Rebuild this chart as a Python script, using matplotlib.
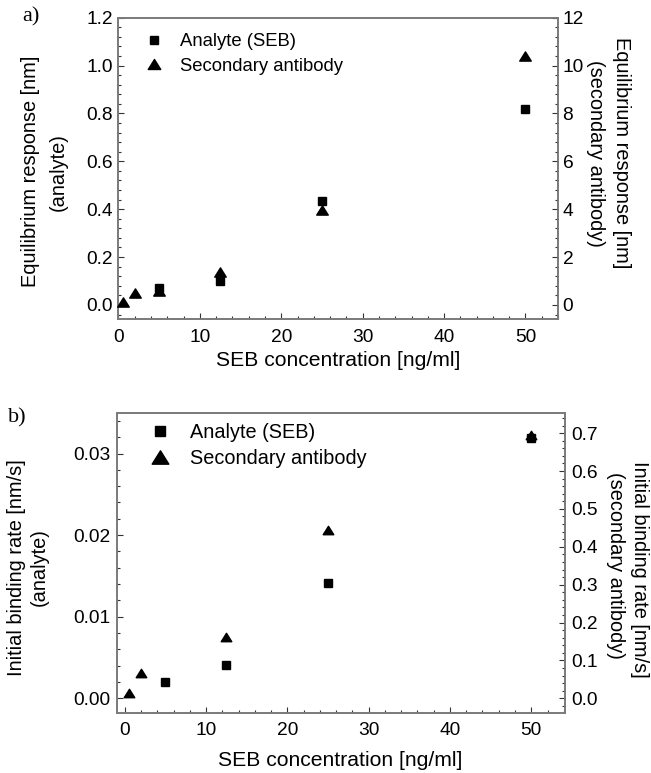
import matplotlib
matplotlib.use("Agg")
import matplotlib.pyplot as plt
from matplotlib.ticker import MultipleLocator, FormatStrFormatter
from matplotlib.lines import Line2D
from matplotlib.path import Path

plt.rcParams['font.family'] = ['Liberation Sans', 'DejaVu Sans']

# SEB concentration [ng/ml]
conc_analyte = [5, 12.5, 25, 50]
conc_secondary = [0.5, 2, 5, 12.5, 25, 50]
conc_rate_secondary = [0.5, 2, 12.5, 25, 50]

# a) equilibrium response [nm]
eq_analyte = [0.072, 0.100, 0.435, 0.818]
eq_secondary = [0.14, 0.51, 0.58, 1.37, 3.97, 10.4]

# b) initial binding rate [nm/s]
rate_analyte = [0.0020, 0.0041, 0.0141, 0.0319]
rate_secondary = [0.014, 0.068, 0.162, 0.445, 0.695]

W, H = 651, 773
fig = plt.figure(figsize=(W / 100, H / 100), dpi=100)

SPINE = '#7a7a7a'
TICK = '#333333'
TICK_FS = 13.8
LABEL_FS = 14.4
XLABEL_FS = 15.2

# slightly flattened triangle, as drawn by the original plotting package
TRI = Path([(-1, -0.8), (1, -0.8), (0, 0.8), (-1, -0.8)],
           [Path.MOVETO, Path.LINETO, Path.LINETO, Path.CLOSEPOLY])


def fx(px):
    return px / W


def fy(py):
    return 1 - py / H


def px_axes(left, top, right, bottom):
    return fig.add_axes([fx(left), fy(bottom), (right - left) / W, (bottom - top) / H])


def style(ax, xpad, ypad, right=False):
    for s in ax.spines.values():
        s.set_color(SPINE)
        s.set_linewidth(1.2)
    ax.tick_params(which='both', direction='in', colors=TICK, labelcolor='black',
                   labelsize=TICK_FS, width=0.8)
    ax.tick_params(which='major', length=4.5)
    ax.tick_params(which='minor', length=2.5)
    if right:
        ax.tick_params(axis='y', which='both', left=False, right=True, pad=ypad)
    else:
        ax.tick_params(axis='y', which='both', right=False, pad=ypad)
        ax.tick_params(axis='x', which='both', top=False, pad=xpad)


# ---------------- panel a ----------------
axa = px_axes(118.5, 17.7, 558, 319.3)
axa2 = axa.twinx()
axa.set_xlim(0, 54)
axa.set_ylim(-0.06, 1.2)
axa2.set_ylim(-0.6, 12)
axa.xaxis.set_major_locator(MultipleLocator(10))
axa.xaxis.set_minor_locator(MultipleLocator(2))
axa.yaxis.set_major_locator(MultipleLocator(0.2))
axa.yaxis.set_minor_locator(MultipleLocator(0.04))
axa.yaxis.set_major_formatter(FormatStrFormatter('%.1f'))
axa2.yaxis.set_major_locator(MultipleLocator(2))
axa2.yaxis.set_minor_locator(MultipleLocator(0.4))
style(axa, xpad=7.2, ypad=4.2)
style(axa2, xpad=7.2, ypad=3.3, right=True)

axa.plot(conc_analyte, eq_analyte, 's', color='black', ms=5.6, zorder=3, clip_on=False)
axa2.plot(conc_secondary, eq_secondary, marker=TRI, ls='none', color='black', ms=8.3,
          zorder=3, clip_on=False)

fig.text(fx(338.5), fy(360), 'SEB concentration [ng/ml]', fontsize=XLABEL_FS,
         ha='center', va='center')
fig.text(fx(31), fy(171.7), 'Equilibrium response [nm]', rotation=90,
         ha='center', va='center', fontsize=LABEL_FS)
fig.text(fx(58), fy(171.7), '(analyte)', rotation=90,
         ha='center', va='center', fontsize=LABEL_FS)
fig.text(fx(621), fy(152.5), 'Equilibrium response [nm]', rotation=270,
         ha='center', va='center', fontsize=LABEL_FS)
fig.text(fx(596), fy(153), '(secondary antibody)', rotation=270,
         ha='center', va='center', fontsize=LABEL_FS)

ha = [Line2D([], [], ls='none', marker='s', color='black', ms=5.8),
      Line2D([], [], ls='none', marker=TRI, color='black', ms=9.0)]
axa.legend(ha, ['Analyte (SEB)', 'Secondary antibody'], loc='upper left',
           bbox_to_anchor=(0.060, 0.949), frameon=False, fontsize=13.3,
           handlelength=1.0, handletextpad=0.9, labelspacing=0.41,
           borderpad=0, borderaxespad=0)

fig.text(fx(22), fy(17), 'a)', family='Liberation Serif', fontsize=16, ha='left', va='center')

# ---------------- panel b ----------------
axb = px_axes(116.7, 412.7, 564.6, 712.7)
axb2 = axb.twinx()
axb.set_xlim(-1, 54.1)
axb.set_ylim(-0.00176, 0.035)
axb2.set_ylim(-0.038, 0.754)
axb.xaxis.set_major_locator(MultipleLocator(10))
axb.xaxis.set_minor_locator(MultipleLocator(2))
axb.yaxis.set_major_locator(MultipleLocator(0.01))
axb.yaxis.set_minor_locator(MultipleLocator(0.002))
axb.yaxis.set_major_formatter(FormatStrFormatter('%.2f'))
axb2.yaxis.set_major_locator(MultipleLocator(0.1))
axb2.yaxis.set_minor_locator(MultipleLocator(0.02))
axb2.yaxis.set_major_formatter(FormatStrFormatter('%.1f'))
style(axb, xpad=6.4, ypad=4.5)
style(axb2, xpad=6.4, ypad=4.5, right=True)

axb.plot(conc_analyte, rate_analyte, 's', color='black', ms=5.8, zorder=3, clip_on=False)
axb2.plot(conc_rate_secondary, rate_secondary, marker=TRI, ls='none', color='black',
          ms=7.6, zorder=3, clip_on=False)

fig.text(fx(340.6), fy(760), 'SEB concentration [ng/ml]', fontsize=XLABEL_FS,
         ha='center', va='center')
fig.text(fx(16.7), fy(567.5), 'Initial binding rate [nm/s]', rotation=90,
         ha='center', va='center', fontsize=LABEL_FS)
fig.text(fx(39.6), fy(567.5), '(analyte)', rotation=90,
         ha='center', va='center', fontsize=LABEL_FS)
fig.text(fx(639.5), fy(569), 'Initial binding rate [nm/s]', rotation=270,
         ha='center', va='center', fontsize=LABEL_FS)
fig.text(fx(616), fy(565), '(secondary antibody)', rotation=270,
         ha='center', va='center', fontsize=LABEL_FS)

hb = [Line2D([], [], ls='none', marker='s', color='black', ms=6.7),
      Line2D([], [], ls='none', marker=TRI, color='black', ms=12)]
axb.legend(hb, ['Analyte (SEB)', 'Secondary antibody'], loc='upper left',
           bbox_to_anchor=(0.0754, 0.9645), frameon=False, fontsize=14.3,
           handlelength=1.0, handletextpad=0.97, labelspacing=0.35,
           borderpad=0, borderaxespad=0)

fig.text(fx(8), fy(418), 'b)', family='Liberation Serif', fontsize=16, ha='left', va='center')

fig.savefig('out.png', dpi=100)
